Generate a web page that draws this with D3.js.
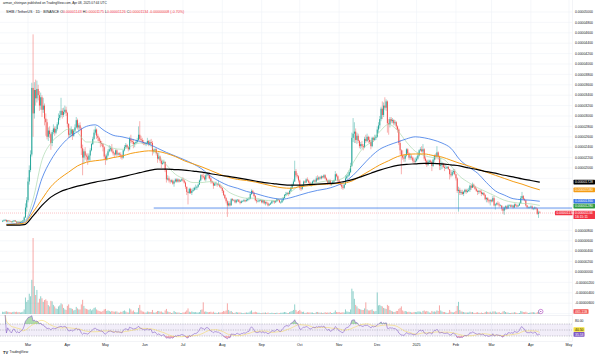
<!DOCTYPE html>
<html><head><meta charset="utf-8">
<script src="https://cdn.jsdelivr.net/npm/d3@7"></script>
<style>html,body{margin:0;padding:0;background:#fff;}svg{display:block;font-family:"Liberation Sans",Arial,sans-serif;}</style>
</head><body><svg id="c" width="600" height="358"></svg>
<script>
// ---- DATA (prices in units of 1e-6 USDT, volume in trillions of SHIB) ----
const startDate = "2024-02-10";
const firstOpen = 9.7;
const closes = [
 9.8,9.9,10.0,9.7,9.9,9.8,9.7,9.6,9.8,9.9,9.7,9.5,9.6,9.4,9.6,9.7,9.9,10.5,12.4,13.8,
 17.4,19.6,22.6,35.4,30.5,35.0,33.4,35.2,34.0,32.0, 33.6,31.2,32.0,29.5,28.8,26.0,27.2,26.5,24.8,26.9, 27.6,26.8,27.5,28.4,29.6,30.2,31.0,30.2,30.8,31.2,30.6,
 28.5,26.4,26.6,27.4,26.2,27.2,27.8,29.2,27.8,28.2, 27.6,23.8,22.0,23.2,22.4,22.2,21.6,22.4,23.4,24.6, 25.6,26.8,27.4,26.2,25.8,25.2,24.8,24.6,24.0,22.2,
 21.6,22.4,23.2,23.6,23.8,23.2,22.8,22.6,23.4,22.6, 22.8,22.6,22.4,22.0,23.4,24.0,24.4,24.0,23.6,25.6, 25.2,25.0,24.6,24.8,25.0,25.4,26.4,25.6,25.4,25.0,24.8,
 24.6,24.8,25.2,24.6,25.0,24.8,23.2,23.4,23.6,22.8, 21.8,22.2,21.4,20.8,21.0,21.2,19.6,17.8,18.0,17.6, 17.4,17.6,17.0,17.4,17.8,17.4,17.8,17.4,17.6,17.8,
 17.6,17.2,16.4,15.4,15.2,16.0,15.2,15.6,15.8,16.2, 16.2,16.4,16.8,17.6,18.6,18.4,18.2,17.8,18.6,18.8, 18.6,18.0,17.4,17.2,16.6,17.0,17.0,16.8,16.8,16.4,16.2,
 15.6,14.8,14.2,13.6,12.8,13.2,12.8,14.0,13.8,13.8, 13.4,13.8,13.9,13.5,13.3,13.6,13.6,13.8,13.6,13.8, 14.0,14.1,15.0,15.6,15.2,14.6,13.8,13.6,13.6,13.8,13.8,
 13.4,13.8,13.2,13.4,13.2,12.8,13.0,13.2,13.6,13.6, 13.4,13.6,14.0,13.8,13.4,13.4,13.8,14.2,14.8,15.0, 15.2,15.0,15.6,16.2,16.8,17.4,19.4,18.6,18.4,17.6,
 16.2,16.0,16.6,17.4,17.2,17.8,17.6,17.2,16.8,16.8, 17.4,17.6,17.4,18.0,17.8,18.2,18.0,18.4,18.2,18.6, 18.0,17.6,17.2,17.6,16.8,17.0,17.4,17.6,18.8,18.4,17.6,
 17.2,16.8,16.4,16.2,16.8,18.0,18.4,18.6,19.2,20.4, 25.8,26.6,27.0,25.4,26.2,25.2,24.2,24.6,24.2,24.0, 25.6,25.2,26.0,25.4,25.0,24.2,25.8,25.4,25.8,26.0,
 27.4,28.2,29.4,31.4,30.2,32.0,31.6,32.8,28.6,28.4, 29.4,29.0,29.2,28.6,28.8,28.0,27.4,24.8,23.4,22.4, 22.0,21.8,22.4,23.6,22.8,22.0,22.2,22.0,21.4,21.2,21.4,
 21.8,22.4,23.4,23.6,23.2,23.6,21.8,21.4,20.6,21.2, 21.4,21.2,20.4,21.6,22.4,22.2,23.0,22.2,20.4,20.6, 20.8,20.2,20.0,20.0,20.2,19.8,18.8,18.6,19.2,19.4,18.8,
 18.0,15.6,15.8,15.2,15.4,15.0,15.4,15.8,15.4,15.6, 15.8,16.6,16.2,16.8,16.4,16.0,15.6,15.4,15.6,15.4, 15.0,15.2,14.8,14.0,14.2,13.8,13.6,13.8,
 13.6,14.2,12.8,13.0,13.2,13.0,12.8,12.8,12.2,11.8, 12.4,12.6,12.2,12.8,12.8,12.6,12.8,12.4,13.0,12.8, 12.6,12.8,13.2,14.2,14.6,14.0,13.8,12.8,12.4,12.4,12.4,
 12.6,12.2,12.2,12.4,12.2,11.2,11.43,11.34
];
const highs = [
 10.0,10.1,10.2,10.1,10.0,10.0,9.9,9.8,9.9,10.0,10.0,9.8,9.7,9.7,9.7,9.8,10.0,10.7,13.2,14.4,
 18.2,20.5,23.4,36.4,45.7,36.5,37.0,36.8,36.0,34.8, 34.5,34.0,33.5,32.4,30.5,29.4,27.8,28.0,26.8,27.3, 28.4,28.0,28.0,28.8,30.5,31.0,33.5,31.5,31.6,32.0,31.8,
 30.8,28.6,27.6,28.0,27.5,27.5,28.4,29.8,29.5,28.6, 28.8,27.8,24.5,23.6,24.0,22.8,22.8,22.8,23.8,24.8, 26.0,27.4,28.0,27.6,26.6,26.0,25.5,25.2,24.8,24.2,
 22.6,22.8,23.6,24.4,24.2,24.6,23.6,23.0,23.6,23.6, 23.0,23.0,23.0,22.6,23.6,24.4,24.8,24.6,24.2,26.0, 26.4,25.6,25.6,25.0,25.4,25.8,28.0,29.0,26.2,25.8,25.4,
 25.0,25.0,25.8,25.4,25.4,25.6,25.2,23.6,23.8,23.8, 23.0,23.0,22.4,21.6,21.4,21.6,21.2,19.8,18.6,18.4, 17.8,17.8,17.8,17.6,18.0,18.0,18.0,17.8,17.8,18.0,
 18.2,17.8,17.4,16.4,15.6,16.2,16.2,16.0,16.2,16.4, 16.8,16.6,17.0,17.8,18.8,18.8,19.0,18.6,18.8,19.2, 19.0,19.0,18.2,17.6,17.2,17.2,17.4,17.0,17.6,17.0,16.6,
 16.2,15.8,15.0,14.4,13.8,13.6,13.6,14.2,14.2,14.0, 14.0,14.0,14.0,14.0,13.7,13.8,13.8,14.0,13.9,14.2, 14.2,14.4,15.2,15.9,15.8,15.4,14.8,14.0,14.0,14.0,14.0,
 13.9,13.9,13.8,13.6,13.6,13.4,13.2,13.4,13.8,13.8, 13.7,13.8,14.2,14.1,13.9,13.6,14.0,14.4,15.0,15.4, 15.4,15.4,15.8,16.4,17.0,17.8,21.4,19.8,19.0,18.6,
 17.8,16.6,16.8,17.6,17.6,18.0,18.2,17.8,17.4,17.2, 17.6,17.8,17.8,18.4,18.6,18.4,18.4,18.6,18.5,18.8, 18.8,18.2,17.8,17.8,17.8,17.2,17.6,17.8,19.4,19.0,18.6,
 17.8,17.4,17.0,16.8,17.0,18.6,18.8,19.2,19.6,21.0, 26.8,29.6,28.8,27.6,26.8,26.6,25.4,25.0,25.2,24.6, 26.0,26.4,26.6,26.2,26.0,25.4,26.0,26.0,26.4,26.4,
 28.0,28.8,30.0,31.8,32.8,32.6,33.6,33.2,33.0,29.4, 29.8,29.8,29.6,29.4,29.2,29.0,28.2,27.6,25.4,23.6, 23.4,22.6,22.6,23.8,23.8,23.0,22.8,22.6,22.2,21.8,22.0,
 22.2,23.0,23.6,24.0,24.2,24.6,23.8,22.2,21.6,21.6, 21.6,21.6,21.4,21.8,22.6,22.8,24.2,23.2,22.4,22.0, 21.2,21.0,20.6,20.6,20.4,20.4,19.8,19.6,19.6,19.8,19.8,
 18.8,18.2,16.4,16.2,15.8,15.8,15.6,16.0,16.0,16.0, 16.2,16.8,16.8,17.2,17.0,16.6,16.2,15.8,15.8,15.8, 15.8,15.4,15.4,15.0,14.4,14.4,14.0,14.0,
 14.0,14.6,14.6,13.2,13.4,13.6,13.4,13.0,12.8,12.6, 12.6,12.8,12.8,13.0,13.0,13.0,13.0,12.8,13.2,13.2, 13.0,13.0,13.4,14.6,15.4,14.8,14.2,13.8,12.9,12.6,12.6,
 12.8,12.8,12.4,12.6,12.4,12.3,11.8,11.75
];
const lows = [
 9.6,9.7,9.8,9.6,9.6,9.7,9.6,9.5,9.5,9.7,9.6,9.4,9.4,9.3,9.3,9.5,9.6,9.8,10.4,11.6,
 13.4,16.8,19.2,22.2,26.0,29.5,32.0,32.6,33.0,31.0, 31.2,29.8,30.6,28.2,26.2,25.5,25.2,25.8,23.5,24.2, 26.5,26.2,26.5,27.2,28.2,29.2,29.8,29.5,29.8,30.4,30.0,
 27.8,25.8,25.8,26.0,25.4,26.0,27.0,27.6,27.4,26.8, 27.2,22.5,18.6,20.8,21.6,21.2,20.6,21.2,21.4,23.2, 24.4,25.4,26.4,25.6,25.2,24.8,24.0,24.2,23.2,21.6,
 20.6,21.4,22.2,23.0,23.2,23.0,22.4,22.0,22.4,22.2, 22.4,22.2,21.8,21.6,21.8,23.2,23.8,23.8,23.2,23.4, 24.8,24.6,23.8,24.0,24.6,24.8,25.2,25.2,25.0,24.6,24.4,
 24.4,24.2,24.6,24.2,24.4,24.4,22.4,22.8,23.0,22.4, 21.0,21.6,21.0,20.0,20.6,20.8,19.2,17.2,17.6,17.2, 17.0,17.2,16.8,16.4,17.2,17.2,17.2,17.2,17.3,17.4,
 17.4,17.0,16.0,14.8,13.0,15.0,15.0,14.8,15.4,15.6, 15.8,15.8,16.2,16.8,17.4,17.8,18.0,17.6,17.4,18.4, 18.0,17.8,17.0,17.0,16.0,16.6,16.6,16.4,16.6,16.2,16.0,
 15.2,14.6,14.0,13.2,10.6,12.6,12.6,12.8,13.6,13.6, 13.2,13.2,13.5,13.4,13.0,13.2,13.4,13.5,13.4,13.6, 13.6,13.8,14.0,14.8,15.0,14.4,13.6,13.2,13.4,13.4,13.6,
 13.2,13.2,13.0,12.8,13.0,12.6,12.8,12.9,13.1,13.4, 13.1,13.3,13.5,13.7,13.3,13.1,13.3,13.6,14.2,14.6, 14.9,14.6,14.9,15.4,16.0,16.6,17.3,18.2,18.0,17.2,
 15.8,15.6,15.8,16.4,17.0,17.1,17.4,17.0,16.6,16.4, 16.7,17.2,17.2,17.2,17.6,17.6,17.8,17.8,18.0,18.0, 17.8,17.4,16.8,17.0,16.6,16.6,16.8,17.0,17.6,18.2,17.2,
 16.8,16.6,16.0,15.8,16.0,16.8,17.8,18.2,18.4,19.0, 20.2,25.0,24.8,24.8,24.6,24.8,23.8,23.6,23.8,23.4, 23.8,24.8,25.0,24.8,24.6,23.6,24.0,25.0,25.2,25.4,
 25.8,26.8,27.6,29.0,29.4,29.8,31.2,31.0,26.8,26.4, 27.8,28.6,28.6,28.2,28.2,27.4,26.8,24.4,22.6,18.8, 21.6,21.2,21.2,22.2,22.6,21.6,21.6,21.6,21.0,20.8,21.0,
 21.2,21.6,22.2,23.2,23.0,22.8,21.4,20.6,20.2,20.4, 20.8,20.8,19.4,20.2,21.2,21.6,22.0,21.6,19.6,19.6, 19.8,20.0,19.4,19.8,19.8,19.6,17.8,18.2,18.4,18.8,18.6,
 17.6,15.2,11.6,14.8,14.8,14.8,14.6,15.2,15.0,15.2, 15.4,15.4,15.8,16.2,16.2,15.8,15.4,14.8,15.0,15.2, 14.6,14.8,14.6,13.8,13.4,13.4,13.2,12.8,
 13.4,13.4,12.6,12.0,12.8,12.8,12.4,12.6,11.8,11.2, 11.0,12.0,12.0,12.2,12.6,12.4,12.4,12.2,12.3,12.6, 12.4,12.6,12.7,13.2,14.0,13.8,13.6,12.6,12.2,12.2,12.2,
 12.3,12.0,11.9,12.0,12.0,11.0,10.4,11.26
];
const volumes = [
 0.9,0.8,1.0,1.1,0.9,0.8,0.7,0.6,0.8,0.9,0.8,0.9,0.7,0.8,0.6,0.7,0.9,1.8,6.5,4.8,
 5.5,8.0,7.0,13.5,30.0,11.0,7.5,9.5,4.5,6.0, 7.0,6.2,4.8,5.5,5.8,5.2,3.5,3.0,5.2,5.0, 3.6,3.0,2.2,2.0,3.0,3.4,4.2,3.8,2.4,1.8,1.6,
 3.2,3.8,2.4,2.2,2.0,1.4,1.6,2.8,2.2,1.8, 1.8,3.8,5.6,3.2,2.2,2.0,1.8,1.6,2.0,1.4, 1.8,2.4,2.6,1.8,1.4,1.2,1.0,0.9,1.2,1.8,
 2.0,1.2,1.4,1.2,0.9,1.2,1.0,0.9,1.0,1.0, 0.6,0.5,0.9,0.8,1.2,1.4,1.0,0.7,0.6,2.2, 1.8,1.0,1.4,0.8,0.6,0.7,2.4,3.6,1.4,1.0,0.9,
 0.6,0.6,1.0,0.9,0.8,0.8,1.6,0.6,0.5,0.8, 1.2,1.2,0.9,1.0,0.6,0.5,1.4,2.0,1.0,0.8, 0.7,0.4,0.5,1.2,0.8,0.6,0.6,0.6,0.4,0.4,
 0.6,0.6,0.9,1.4,2.2,0.9,0.7,1.0,0.8,0.7, 0.8,0.6,0.6,0.8,1.6,1.8,4.6,0.9,1.0,0.8, 0.7,0.8,0.9,0.6,0.9,0.5,0.5,0.4,0.7,0.6,0.6,
 0.8,1.2,1.0,1.4,4.2,1.6,1.0,1.2,0.7,0.4, 0.5,0.8,0.6,0.6,0.6,0.5,0.3,0.4,0.5,0.6, 0.5,0.6,1.0,1.4,0.6,0.7,0.9,0.7,0.5,0.5,0.3,
 0.4,0.5,0.5,0.6,0.4,0.6,0.3,0.3,0.5,0.4, 0.4,0.4,0.5,0.3,0.3,0.5,0.5,0.6,0.8,0.7, 0.4,0.4,0.8,1.0,1.2,1.6,3.8,1.6,0.9,1.2,
 1.6,1.0,0.8,0.9,0.4,0.5,0.7,0.6,0.6,0.6, 0.6,0.4,0.4,0.8,0.8,0.6,0.5,0.6,0.4,0.5, 0.7,0.5,0.6,0.5,0.8,0.4,0.4,0.7,1.4,0.8,0.7,
 0.8,0.5,0.6,0.7,0.6,1.8,1.0,0.9,0.8,1.8, 10.0,9.0,6.0,3.6,3.0,2.2,2.0,1.8,1.6,1.6, 2.2,4.6,1.8,1.4,1.4,1.6,1.8,1.2,1.0,1.2,
 8.5,3.4,3.6,3.2,3.0,2.4,2.2,2.0,3.6,3.2, 1.6,1.2,1.0,0.8,0.8,1.2,1.2,2.0,2.4,3.0, 1.4,1.0,1.2,1.0,0.8,0.9,0.8,0.6,0.6,0.8,0.8,
 0.7,1.0,1.0,0.9,0.6,1.2,1.4,1.0,1.2,1.0, 0.6,0.5,1.2,0.9,1.0,0.9,1.4,1.2,3.4,1.4, 1.0,0.8,0.8,0.6,0.4,0.5,1.6,0.9,0.7,0.6,0.8,
 1.2,3.2,4.8,1.6,1.0,0.9,0.8,0.6,0.6,0.6, 0.6,0.9,0.7,0.8,0.5,0.4,0.6,0.7,0.5,0.4, 0.6,0.4,0.4,0.8,1.0,0.8,0.6,0.9,
 0.5,1.0,1.0,1.0,0.6,0.6,0.8,0.4,0.5,1.0, 1.2,0.8,0.6,0.6,0.4,0.4,0.5,0.5,0.7,0.6, 0.4,0.3,0.4,1.2,1.0,0.8,0.7,0.9,0.6,0.4,0.5,
 0.6,0.7,0.7,0.6,0.3,0.8,1.4,0.465
];
// Moving averages sampled weekly: day index 3, 10, 17, ... 423
const maStartIndex = 3, maStep = 7;
const ma200 = [9.0,9.0,9.1,10.8,12.8,14.4,15.4,16.0,16.5,16.9,17.3,17.6,17.9,18.3,18.7,19.1,19.5,19.8,19.8,19.7,19.6,19.4,19.2,18.9,18.6,18.4,18.1,17.8,17.5,17.2,17.0,16.8,16.7,16.7,16.8,16.9,17.0,17.1,17.4,17.8,18.4,19.0,19.6,20.1,20.5,20.7,20.8,20.9,20.9,20.8,20.6,20.4,20.0,19.7,19.3,19.0,18.6,18.3,17.9,17.6,17.28];
const ma100 = [9.1,9.2,9.4,11.5,14.0,16.4,18.0,19.2,20.4,21.1,21.4,21.6,22.0,22.3,22.8,23.1,23.3,23.2,22.8,22.2,21.4,20.8,20.2,19.5,18.8,18.2,17.8,17.6,17.3,16.9,16.5,16.2,16.1,16.4,16.6,16.8,16.9,17.0,17.1,17.6,18.6,19.6,20.6,21.4,22.2,22.6,22.7,22.7,22.4,22.1,21.5,20.9,20.4,19.8,19.2,18.6,18.0,17.4,16.9,16.3,15.8];
const ma50 = [9.2,9.3,9.6,12.5,18.0,21.5,24.0,25.8,27.0,28.0,28.3,27.2,26.3,26.0,25.6,25.1,24.6,23.8,23.0,22.3,21.6,20.8,19.8,18.4,17.4,16.6,16.1,15.5,15.1,14.6,14.2,14.0,14.3,14.8,15.3,15.7,16.0,16.5,17.3,18.6,20.4,22.2,23.6,24.4,25.0,25.6,26.0,25.8,25.4,24.8,23.8,21.6,20.2,19.0,17.2,15.6,14.8,14.1,13.9,13.8,13.6];
const ma20 = [9.6,9.7,9.8,14.0,21.5,24.8,26.4,27.5,26.8,25.0,25.0,24.6,23.8,23.6,24.2,24.8,24.5,22.6,20.6,18.8,17.9,17.2,17.2,17.4,16.8,15.4,14.6,14.2,14.2,13.8,13.7,14.2,15.4,16.6,16.9,17.2,17.5,17.6,18.2,21.0,23.6,25.0,27.0,28.4,27.2,25.0,23.2,22.4,22.0,21.8,20.4,18.4,17.2,16.2,15.4,14.6,13.8,13.4,13.2,13.1,12.8];
// horizontal support drawn on chart
const supportLevel = 12.3, supportStart = "2024-06-08";
// axis ticks / labels
const priceTicks = [50,48,46,44,42,40,38,36,34,32,30,28,26,24,22,20,18,16,14,12,10,8,6,4,2,0,-2,-4,-6,-8];
const monthTicks = ["2024-03-01","2024-04-01","2024-05-01","2024-06-01","2024-07-01","2024-08-01","2024-09-01","2024-10-01","2024-11-01","2024-12-01","2025-01-01","2025-02-01","2025-03-01","2025-04-01","2025-05-01"];
const monthLabels = ["Mar","Apr","May","Jun","Jul","Aug","Sep","Oct","Nov","Dec","2025","Feb","Mar","Apr","May"];
const tagValues = [17.28, 15.8, 13.6, 12.8];
const tagTexts = ["0.00001728","0.00001580","0.00001360","0.00001280"];
const tagColors = ["#000000","#f59d15","#3b78e7","#2e9a41"];
const lastPriceText = "0.00001134", countdownText = "16:15:11";
const volumeLastText = "465.11B";
const rsiLast = 35.53, rsiMaLast = 40.50;
const rsiTickLabel = 80;

// ---- DRAW ----
const svg = d3.select("#c");
const PR = 572;
const parse = d3.utcParse("%Y-%m-%d");
const d0 = parse(startDate);
const dates = closes.map((c,i)=>d3.utcDay.offset(d0,i));
const x = d3.scaleUtc().domain([parse("2024-03-01"), parse("2025-05-01")]).range([28,569]);
const y = d3.scaleLinear().domain([0,50]).range([272,12]);
const yVol = d3.scaleLinear().domain([0,30]).range([314,238]);
const yRsi = d3.scaleLinear().domain([30,70]).range([336,324]);
const up = "#26a69a", dn = "#ef5350";

const bars = closes.map((c,i)=>{
  const o = i===0 ? firstOpen : closes[i-1];
  return {d:dates[i], o, c, h:Math.max(highs[i],o,c), l:Math.min(lows[i],o,c), v:volumes[i]};
});

const defs = svg.append("defs");
defs.append("clipPath").attr("id","pp").append("rect").attr("x",0).attr("y",0).attr("width",PR).attr("height",315);
defs.append("clipPath").attr("id","rp").append("rect").attr("x",0).attr("y",315).attr("width",PR).attr("height",26);

svg.append("rect").attr("width",600).attr("height",358).attr("fill","#fff");

// grid
const grid = svg.append("g");
grid.selectAll(".hg").data(priceTicks).join("line")
  .attr("x1",0).attr("x2",PR).attr("y1",d=>y(d)).attr("y2",d=>y(d))
  .attr("stroke","#eef1f6").attr("stroke-width",0.6);
grid.selectAll(".vg").data(monthTicks).join("line")
  .attr("x1",d=>x(parse(d))).attr("x2",d=>x(parse(d))).attr("y1",0).attr("y2",341)
  .attr("stroke","#eef1f6").attr("stroke-width",0.6);

// pane separators
svg.append("line").attr("x1",0).attr("x2",PR).attr("y1",315.5).attr("y2",315.5).attr("stroke","#e6e8ee").attr("stroke-width",0.6);
svg.append("line").attr("x1",0).attr("x2",PR).attr("y1",341.5).attr("y2",341.5).attr("stroke","#e6e8ee").attr("stroke-width",0.5);
svg.append("line").attr("x1",PR+0.5).attr("x2",PR+0.5).attr("y1",0).attr("y2",341.5).attr("stroke","#e6e8ee").attr("stroke-width",0.5);

const pane = svg.append("g").attr("clip-path","url(#pp)");

// volume
pane.append("g").selectAll("rect").data(bars).join("rect")
  .attr("x",d=>x(d.d)-0.5).attr("width",1)
  .attr("y",d=>yVol(d.v)).attr("height",d=>Math.max(0.3,yVol(0)-yVol(d.v)))
  .attr("fill",d=>d.c>=d.o?up:dn).attr("opacity",0.5);

// last price line
pane.append("line").attr("x1",0).attr("x2",PR).attr("y1",y(closes[closes.length-1])).attr("y2",y(closes[closes.length-1]))
  .attr("stroke","#f23645").attr("stroke-width",0.5).attr("stroke-dasharray","1,1").attr("opacity",0.6);

// candles
const cg = pane.append("g");
cg.selectAll("line").data(bars).join("line")
  .attr("x1",d=>x(d.d)).attr("x2",d=>x(d.d)).attr("y1",d=>y(d.h)).attr("y2",d=>y(d.l))
  .attr("stroke",d=>d.c>=d.o?up:dn).attr("stroke-width",0.45);
cg.selectAll("rect").data(bars).join("rect")
  .attr("x",d=>x(d.d)-0.5).attr("width",1)
  .attr("y",d=>y(Math.max(d.o,d.c))).attr("height",d=>Math.max(0.4,Math.abs(y(d.o)-y(d.c))))
  .attr("fill",d=>d.c>=d.o?up:dn);

// moving averages
const maLine = d3.line().x((v,k)=>x(dates[maStartIndex+maStep*k])).y(v=>y(v)).curve(d3.curveMonotoneX);
[[ma20,"#9fd4a3",0.6],[ma50,"#3b78e7",0.8],[ma100,"#f59d15",1.0],[ma200,"#000000",1.2]].forEach(([arr,col,w])=>{
  pane.append("path").attr("d",maLine(arr)).attr("fill","none").attr("stroke",col).attr("stroke-width",w);
});

// support line
pane.append("line").attr("x1",x(parse(supportStart))).attr("x2",PR).attr("y1",y(supportLevel)).attr("y2",y(supportLevel))
  .attr("stroke","#3b78e7").attr("stroke-width",0.8);

// purple marker
svg.append("circle").attr("cx",x(dates[dates.length-1])+1).attr("cy",311.5).attr("r",2.2)
  .attr("fill","#fff").attr("stroke","#9c27b0").attr("stroke-width",0.5);
svg.append("circle").attr("cx",x(dates[dates.length-1])+1).attr("cy",311.5).attr("r",0.6).attr("fill","#9c27b0");

// RSI
const rsi = new Array(closes.length).fill(null);
{ let ag=0, al=0; const p=14;
  for(let i=1;i<closes.length;i++){
    const dlt = closes[i]-closes[i-1], g=Math.max(dlt,0), l=Math.max(-dlt,0);
    if(i<p){ ag=(ag*(i-1)+g)/i; al=(al*(i-1)+l)/i; }
    else { ag=(ag*(p-1)+g)/p; al=(al*(p-1)+l)/p; }
    rsi[i] = al===0 ? 100 : 100-100/(1+ag/al);
  }
}
const rsiMa = rsi.map((v,i)=>{ if(i<2) return null; const s=rsi.slice(Math.max(1,i-13),i+1); return d3.mean(s); });
const rg = svg.append("g").attr("clip-path","url(#rp)");
rg.append("rect").attr("x",0).attr("width",PR).attr("y",yRsi(70)).attr("height",yRsi(30)-yRsi(70)).attr("fill","#7e57c2").attr("opacity",0.1);
[70,50,30].forEach(lv=>rg.append("line").attr("x1",0).attr("x2",PR).attr("y1",yRsi(lv)).attr("y2",yRsi(lv))
  .attr("stroke","#787b86").attr("stroke-width",0.4).attr("stroke-dasharray","1.2,1.2"));
const rd = rsi.map((v,i)=>({d:dates[i],v})).filter(e=>e.v!==null && e.d>=dates[2]);
rg.append("path").datum(rd).attr("fill","#4caf50").attr("opacity",0.45)
  .attr("d",d3.area().x(e=>x(e.d)).y0(yRsi(70)).y1(e=>yRsi(Math.max(70,e.v))));
rg.append("path").datum(rd).attr("fill","#f23645").attr("opacity",0.35)
  .attr("d",d3.area().x(e=>x(e.d)).y0(yRsi(30)).y1(e=>yRsi(Math.min(30,e.v))));
const rmd = rsiMa.map((v,i)=>({d:dates[i],v})).filter(e=>e.v!==null && e.d>=dates[2]);
rg.append("path").datum(rmd).attr("fill","none").attr("stroke","#f5d547").attr("stroke-width",0.5)
  .attr("d",d3.line().x(e=>x(e.d)).y(e=>yRsi(e.v)));
rg.append("path").datum(rd).attr("fill","none").attr("stroke","#7e57c2").attr("stroke-width",0.55)
  .attr("d",d3.line().x(e=>x(e.d)).y(e=>yRsi(e.v)));

// time axis
svg.append("g").selectAll("text").data(monthTicks).join("text")
  .attr("x",d=>x(parse(d))).attr("y",345.5).attr("text-anchor","middle")
  .attr("font-size",3.6).attr("fill","#131722").text((d,i)=>monthLabels[i]);

// ---- right-axis tags: compute positions first ----
const occupied = []; // [top, bottom] ranges on the axis covered by tags
let lastY = -1e9;
const maTags = tagValues.map((v,i)=>({v,i,yy:y(v)})).sort((a,b)=>a.yy-b.yy).map(t=>{
  const yy = Math.max(t.yy, lastY+4.8); lastY = yy; occupied.push([yy-2.3, yy+2.3]); return {...t, yy};
});
const lastYc = Math.max(y(closes[closes.length-1]), lastY+5.2);
occupied.push([lastYc-2.4, lastYc+6]);
const volTagY = 311.5;
occupied.push([volTagY-2.3, volTagY+2.3]);
const rsiA = yRsi(rsiLast), rsiB = Math.min(yRsi(rsiMaLast), rsiA-4.8);

// price axis labels (skip those hidden under tags)
const fmt = v => (v*1e-6).toFixed(8);
const visibleTicks = priceTicks.filter(t=>{
  const yy = y(t); return !occupied.some(([a,b])=> yy+1.8 > a && yy-1.8 < b);
});
svg.append("g").selectAll("text").data(visibleTicks).join("text")
  .attr("x",575).attr("y",d=>y(d)+1.2).attr("font-size",3.4).attr("fill","#131722").text(d=>fmt(d));
svg.append("text").attr("x",575).attr("y",yRsi(rsiTickLabel)+1.2).attr("font-size",3.4).attr("fill","#131722").text(rsiTickLabel.toFixed(2));

function tag(yc, txt, fill, tcol, x0=573.5, w=21.5, h=4.6){
  const g = svg.append("g");
  g.append("rect").attr("x",x0).attr("y",yc-h/2).attr("width",w).attr("height",h).attr("rx",0.6).attr("fill",fill);
  g.append("text").attr("x",x0+1.5).attr("y",yc+1.2).attr("font-size",3.4).attr("fill",tcol).text(txt);
  return g;
}
maTags.forEach(t=>tag(t.yy, tagTexts[t.i], tagColors[t.i], "#fff"));
{ const g = svg.append("g");
  g.append("rect").attr("x",573.5).attr("y",lastYc-2.4).attr("width",21.5).attr("height",8.4).attr("rx",0.6).attr("fill","#f23645");
  g.append("text").attr("x",575).attr("y",lastYc+1.2).attr("font-size",3.4).attr("fill","#fff").text(lastPriceText);
  g.append("text").attr("x",575).attr("y",lastYc+5).attr("font-size",3.4).attr("fill","#fff").text(countdownText);
  tag(y(closes[closes.length-1]), lastPriceText, "#f23645", "#fff", 555, 17.5);
}
tag(volTagY, volumeLastText, "#ef5350", "#fff", 573.5, 15);
tag(rsiB, rsiMaLast.toFixed(2), "#f5e13b", "#131722", 573.5, 11);
tag(rsiA, rsiLast.toFixed(2), "#7e57c2", "#fff", 573.5, 11);

// header
svg.append("text").attr("x",3).attr("y",4).attr("font-size",3.2).attr("fill","#131722")
  .text("arman_shirinyan published on TradingView.com, Apr 08, 2025 07:44 UTC");
const h2 = svg.append("text").attr("x",6).attr("y",13.4).attr("font-size",3.6).attr("fill","#131722");
h2.append("tspan").text("SHIB / TetherUS · 1D · BINANCE  ");
[["O","0.00001143"],["H","0.00001175"],["L","0.00001126"],["C","0.00001134"]].forEach(([k,v])=>{
  h2.append("tspan").attr("fill","#131722").text(k);
  h2.append("tspan").attr("fill","#f23645").text(v+" ");
});
h2.append("tspan").attr("fill","#f23645").text("-0.00000008 (-0.70%)");

// footer logo
svg.append("text").attr("x",3).attr("y",353.5).attr("font-size",4).attr("font-weight","bold").attr("fill","#131722").text("TV");
svg.append("text").attr("x",9.5).attr("y",353.3).attr("font-size",3.4).attr("fill","#131722").text("TradingView");
</script></body></html>
